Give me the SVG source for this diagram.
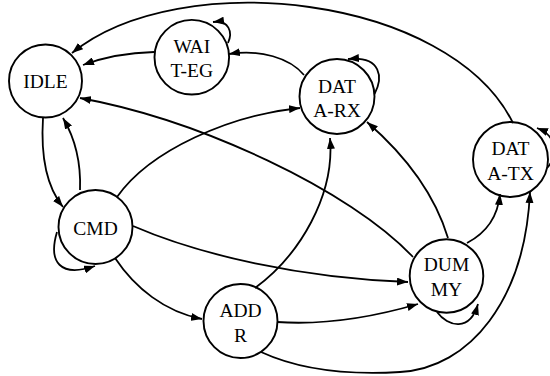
<svg xmlns="http://www.w3.org/2000/svg" width="550" height="376" viewBox="0 0 550 376">
<style>
.node circle{fill:#fff;stroke:#000;stroke-width:1.9}
.node text{font-family:"Liberation Serif","Times New Roman",serif;font-size:19.5px;fill:#000;text-anchor:middle}
.edges path{fill:none;stroke:#000;stroke-width:1.8;marker-end:url(#arr)}
</style>
<defs>
<marker id="arr" markerUnits="userSpaceOnUse" markerWidth="11" markerHeight="8" viewBox="0 0 11 8" refX="11" refY="4" orient="auto">
<path d="M0,0 L11,4 L0,8 z" fill="#000"/>
</marker>
</defs>
<rect width="550" height="376" fill="#fff"/>
<g id="IDLE" class="node"><circle cx="45.5" cy="81" r="36.5"/><text x="45.5" y="88.3">IDLE</text></g>
<g id="WAIT-EG" class="node"><circle cx="191.8" cy="57.2" r="37.3"/><text x="191.8" y="52.5">WAI</text><text x="191.8" y="76.8">T-EG</text></g>
<g id="DATA-RX" class="node"><circle cx="337" cy="96.5" r="37.5"/><text x="337" y="92.5">DAT</text><text x="337" y="116.8">A-RX</text></g>
<g id="DATA-TX" class="node"><circle cx="510.5" cy="159.5" r="37.5"/><text x="510.5" y="154.5">DAT</text><text x="510.5" y="180">A-TX</text></g>
<g id="CMD" class="node"><circle cx="95.5" cy="227" r="37"/><text x="95.5" y="234.5">CMD</text></g>
<g id="ADDR" class="node"><circle cx="240.5" cy="321" r="37"/><text x="240.5" y="316.7">ADD</text><text x="240.5" y="341.7">R</text></g>
<g id="DUMMY" class="node"><circle cx="446.5" cy="276" r="36.8"/><text x="446.5" y="270.5">DUM</text><text x="446.5" y="296">MY</text></g>
<g id="connectors" class="edges">
<path d="M513,123 C450,-5 180,-35 72,53"/>
<path d="M154,52 Q115,53 83,65"/>
<path d="M228,43 C233,32 229,20 213,22"/>
<path d="M304,75 C290,58 260,49 229,54"/>
<path d="M374.5,94 C383,78 382,56 348,59"/>
<path d="M413,257 C350,190 200,120 80,98"/>
<path d="M117,197 C150,150 230,115 300,108"/>
<path d="M255,288 C300,255 335,195 330,138"/>
<path d="M448,238 C435,195 405,155 367,122"/>
<path d="M547,168 C556,158 560,137 537,128"/>
<path d="M467,243 C488,232 498,215 500,194"/>
<path d="M261,352 C300,370 350,375 400,372 C470,368 525,300 530,192"/>
<path d="M43,118 C41,150 45,185 63,207"/>
<path d="M80,190 C81,165 76,140 63,118"/>
<path d="M57,232 C48,262 60,278 95,266"/>
<path d="M133,226 C200,255 300,278 408,282"/>
<path d="M115,258 C135,288 165,312 202,319"/>
<path d="M277,322 C320,325 370,318 418,304"/>
<path d="M437,312 C448,327 470,332 478,304"/>
</g>
</svg>
